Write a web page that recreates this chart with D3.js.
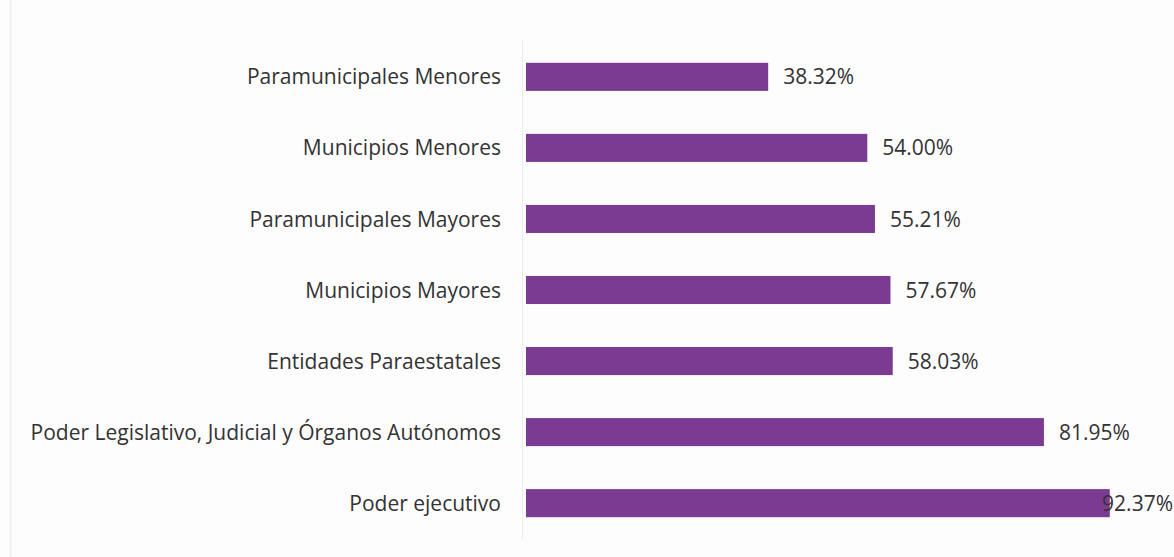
<!DOCTYPE html>
<html>
<head>
<meta charset="utf-8">
<script src="https://cdn.jsdelivr.net/npm/d3@7"></script>
<style>
  html, body { margin: 0; padding: 0; background: #fdfdfd; }
  svg { display: block; }
  text { font-family: "Open Sans", Lato, sans-serif; fill: #333333; }
</style>
</head>
<body>
<svg id="chart" width="1174" height="557"></svg>
<script>
// Categories top to bottom
const categories = [
  "Paramunicipales Menores",
  "Municipios Menores",
  "Paramunicipales Mayores",
  "Municipios Mayores",
  "Entidades Paraestatales",
  "Poder Legislativo, Judicial y Órganos Autónomos",
  "Poder ejecutivo"
];
// Percentage for each category
const values = [38.32, 54.00, 55.21, 57.67, 58.03, 81.95, 92.37];
const valueLabels = ["38.32%", "54.00%", "55.21%", "57.67%", "58.03%", "81.95%", "92.37%"];

const W = 1174, H = 557;
const svg = d3.select("#chart");

// faint frame line on the left edge
svg.append("line")
  .attr("x1", 10.5).attr("x2", 10.5).attr("y1", 0).attr("y2", H)
  .attr("stroke", "#ececec").attr("stroke-width", 1.5);

const x = d3.scaleLinear().domain([0, 100]).range([526, 1158]);
const y = d3.scaleBand().domain(categories).range([41.5, 538.5]).paddingInner(0.605).paddingOuter(0.3);

// category axis line
svg.append("line")
  .attr("x1", 522.5).attr("x2", 522.5)
  .attr("y1", 41).attr("y2", 539)
  .attr("stroke", "#ebebeb");

const data = categories.map((c, i) => ({ c, v: values[i], label: valueLabels[i] }));

svg.selectAll("rect.bar").data(data).join("rect")
  .attr("class", "bar")
  .attr("x", x(0))
  .attr("y", d => y(d.c))
  .attr("width", d => x(d.v) - x(0))
  .attr("height", y.bandwidth())
  .attr("fill", "#7b3b93");

// category labels
svg.selectAll("text.cat").data(data).join("text")
  .attr("class", "cat")
  .attr("x", 501)
  .attr("y", d => y(d.c) + y.bandwidth() / 2)
  .attr("dy", "0.36em")
  .attr("text-anchor", "end")
  .style("font-size", "21px")
  .text(d => d.c);

// value labels, kept inside the drawing
const vl = svg.selectAll("text.val").data(data).join("text")
  .attr("class", "val")
  .attr("y", d => y(d.c) + y.bandwidth() / 2)
  .attr("dy", "0.36em")
  .style("font-size", "21px")
  .text(d => d.label);
vl.attr("x", function(d) {
  const w = this.getComputedTextLength();
  return Math.min(x(d.v) + 15, W - w - 1);
});
</script>
</body>
</html>
